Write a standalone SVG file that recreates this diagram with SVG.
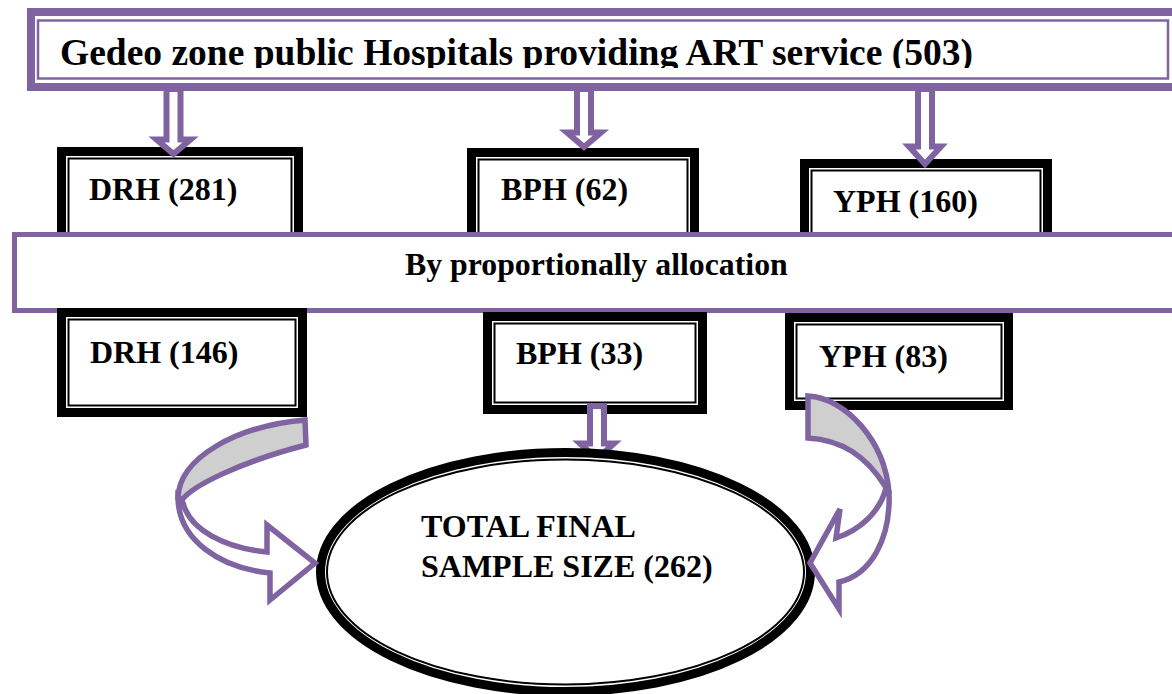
<svg xmlns="http://www.w3.org/2000/svg" width="1172" height="694" viewBox="0 0 1172 694">
<style>
.lbl{font-family:"Liberation Serif","Times New Roman",serif;font-weight:bold;font-size:32px;fill:#000}
.title{font-family:"Liberation Serif","Times New Roman",serif;font-weight:bold;font-size:37.5px;fill:#000}
.thick{fill:#fff;stroke:#000;stroke-width:9}
.thin{fill:none;stroke:#000;stroke-width:2}
.arw{fill:#fff;stroke:#8064A2;stroke-width:6;stroke-linejoin:miter}
.carw{fill:#fff;stroke:#8064A2;stroke-width:5.5;stroke-linejoin:miter}
.back{fill:#CFCFCF;stroke:#8064A2;stroke-width:5.5;stroke-linejoin:miter}
</style>
<defs>
<clipPath id="titleClip"><rect x="40" y="22" width="1120" height="46"/></clipPath>
</defs>
<rect width="1172" height="694" fill="#fff"/>

<g id="node-top">
<rect x="31" y="12" width="1150" height="75" fill="#fff" stroke="#8064A2" stroke-width="8"/>
<rect x="38" y="20.5" width="1130" height="58" fill="none" stroke="#8064A2" stroke-width="2.5"/>
<text class="title" x="60" y="65" clip-path="url(#titleClip)">Gedeo zone public Hospitals providing ART service (503)</text>
</g>

<g id="node-drh281">
<rect class="thick" x="61.5" y="151.5" width="237" height="94"/>
<rect class="thin" x="68.5" y="158.5" width="223" height="80"/>
<text class="lbl" x="89" y="200">DRH (281)</text>
</g>
<g id="node-bph62">
<rect class="thick" x="471.5" y="152.5" width="223" height="93"/>
<rect class="thin" x="478.5" y="159.5" width="209" height="79"/>
<text class="lbl" x="501" y="200">BPH (62)</text>
</g>
<g id="node-yph160">
<rect class="thick" x="804.5" y="163.5" width="243" height="82"/>
<rect class="thin" x="811.5" y="170.5" width="229" height="68"/>
<text class="lbl" x="833" y="212">YPH (160)</text>
</g>

<g id="connectors-top">
<path class="arw" d="M166.5,89 L180.5,89 L180.5,139.5 L190.5,139.5 L173.5,154 L156.5,139.5 L166.5,139.5 Z"/>
<path class="arw" d="M577,89 L591,89 L591,132.5 L601,132.5 L584,147 L567,132.5 L577,132.5 Z"/>
<path class="arw" d="M918,89 L932,89 L932,146.5 L941,146.5 L925,164 L909,146.5 L918,146.5 Z"/>
</g>

<g id="node-allocation">
<rect x="14.5" y="234.5" width="1170" height="76" fill="#fff" stroke="#8064A2" stroke-width="5"/>
<text class="lbl" x="405" y="275" style="font-size:31.8px">By proportionally allocation</text>
</g>

<g id="node-drh146">
<rect class="thick" x="61.5" y="312.5" width="241" height="100"/>
<rect class="thin" x="68.5" y="319.5" width="227" height="86"/>
<text class="lbl" x="90" y="363">DRH (146)</text>
</g>
<g id="node-bph33">
<rect class="thick" x="487.5" y="316.5" width="215" height="93"/>
<rect class="thin" x="494.5" y="323.5" width="201" height="79"/>
<text class="lbl" x="516" y="364">BPH (33)</text>
</g>
<g id="node-yph83">
<rect class="thick" x="789.5" y="317.5" width="219" height="88"/>
<rect class="thin" x="796.5" y="324.5" width="205" height="74"/>
<text class="lbl" x="819" y="367">YPH (83)</text>
</g>

<g id="connectors-bottom">
<path class="arw" d="M590,406 L604,406 L604,443.5 L614,443.5 L597,459 L580,443.5 L590,443.5 Z"/>
</g>

<g id="node-total">
<ellipse cx="565.5" cy="572" rx="245" ry="119.5" fill="#fff" stroke="#000" stroke-width="9"/>
<ellipse cx="565.5" cy="572" rx="238.5" ry="112.5" fill="none" stroke="#000" stroke-width="2"/>
<text class="lbl" x="421" y="537">TOTAL FINAL</text>
<text class="lbl" x="421" y="577">SAMPLE SIZE (262)</text>
</g>

<g id="connectors-curved">
<path class="back" d="M305,420 C236,426 179,458 178,498 L182,500 C192,486 240,462 306,445 Z"/>
<path class="carw" d="M178,497 C178,540 220,568 270,573 L270,600 L315,563 L267,525 L267,552 C225,548 190,530 183,503 Z"/>
<path class="back" d="M808,396 C845,398 885,440 889,493 L885,486 C866,456 842,440 808,438 Z"/>
<path class="carw" d="M889,492 C891,540 870,575 839,582 L839,609 L810,563 L840,509 L836,538 C860,530 880,512 886,488 Z"/>
</g>
</svg>
